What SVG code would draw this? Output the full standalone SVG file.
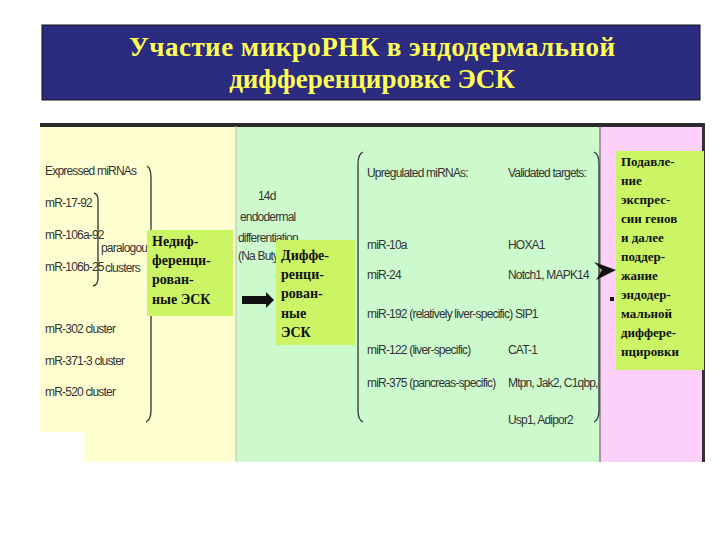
<svg xmlns="http://www.w3.org/2000/svg" width="720" height="540" viewBox="0 0 720 540">
<style>
.t{font-family:"Liberation Serif",serif;font-weight:bold;fill:#ffff55;font-size:27px;text-anchor:middle}
.s{font-family:"Liberation Sans",sans-serif;font-size:12px;fill:#333;letter-spacing:-0.8px}
.b{font-family:"Liberation Serif",serif;font-weight:bold;font-size:14px;fill:#111}
.r{font-family:"Liberation Serif",serif;font-weight:bold;font-size:13px;fill:#111}
.box{fill:#ccf566}
.br{fill:none;stroke:#333;stroke-width:1.3}
</style>
<rect width="720" height="540" fill="#fff"/>
<g id="title">
<rect x="42" y="25" width="658" height="75" fill="#2b2b80" stroke="#111"/>
<text class="t" x="372" y="56" textLength="486">Участие микроРНК в эндодермальной</text>
<text class="t" x="372" y="88">дифференцировке ЭСК</text>
</g>
<g id="panel">
<rect x="40" y="126" width="196" height="336" fill="#fefed0"/>
<rect x="40" y="432" width="44" height="30" fill="#fff"/>
<rect x="236" y="126" width="364" height="336" fill="#cdfacd"/>
<rect x="600" y="126" width="104" height="336" fill="#fcd0f8"/>
<rect x="40" y="123" width="665" height="4" fill="#2a2a2a"/>
<rect x="702" y="123" width="3" height="339" fill="#3a2a3a"/>
<line x1="236" y1="126" x2="236" y2="462" stroke="#bbb"/>
<line x1="600" y1="126" x2="600" y2="462" stroke="#555"/>
<text class="s" x="45" y="175">Expressed miRNAs</text>
<text class="s" x="45" y="207">mR-17-92</text>
<text class="s" x="45" y="239">mR-106a-92</text>
<text class="s" x="45" y="271">mR-106b-25</text>
<text class="s" x="101" y="252">paralogous</text>
<text class="s" x="105" y="272">clusters</text>
<text class="s" x="45" y="333">mR-302 cluster</text>
<text class="s" x="45" y="365">mR-371-3 cluster</text>
<text class="s" x="45" y="396">mR-520 cluster</text>
<path class="br" d="M94 193 Q98 194 98 200 L98 278 Q98 285 93 286"/>
<path class="br" d="M147 166 Q151 168 151 178 L151 410 Q151 420 146 422"/>
<text class="s" x="258" y="200">14d</text>
<text class="s" x="240" y="221">endodermal</text>
<text class="s" x="238" y="242">differentiation</text>
<text class="s" x="238" y="260">(Na Butyr</text>
<path class="br" d="M363 152 Q358 154 358 164 L358 410 Q358 420 363 422"/>
<path class="br" d="M594 152 Q599 154 599 164 L599 410 Q599 420 594 422"/>
<text class="s" x="367" y="177">Upregulated miRNAs:</text>
<text class="s" x="508" y="177">Validated targets:</text>
<text class="s" x="367" y="249">miR-10a</text><text class="s" x="508" y="249">HOXA1</text>
<text class="s" x="367" y="279">miR-24</text><text class="s" x="508" y="279">Notch1, MAPK14</text>
<text class="s" x="367" y="318">miR-192 (relatively liver-specific) SIP1</text>
<text class="s" x="367" y="354">miR-122 (liver-specific)</text><text class="s" x="508" y="354">CAT-1</text>
<text class="s" x="367" y="387">miR-375 (pancreas-specific)</text><text class="s" x="508" y="387">Mtpn, Jak2, C1qbp,</text>
<text class="s" x="508" y="424">Usp1, Adipor2</text>
<rect x="610" y="297" width="4" height="4" fill="#111"/>
</g>
<g id="n1">
<rect class="box" x="147" y="230" width="86" height="86"/>
<text class="b" x="152" y="246">Недиф-</text>
<text class="b" x="152" y="265">ференци-</text>
<text class="b" x="152" y="284">рован-</text>
<text class="b" x="152" y="304">ные ЭСК</text>
</g>
<g id="n2">
<rect class="box" x="276" y="240" width="79" height="105"/>
<text class="b" x="281" y="260">Диффе-</text>
<text class="b" x="281" y="279">ренци-</text>
<text class="b" x="281" y="298">рован-</text>
<text class="b" x="281" y="318">ные</text>
<text class="b" x="281" y="337">ЭСК</text>
</g>
<g id="n3">
<rect class="box" x="616" y="151" width="88" height="219"/>
<text class="r" x="621" y="166">Подавле-</text>
<text class="r" x="621" y="185">ние</text>
<text class="r" x="621" y="204">экспрес-</text>
<text class="r" x="621" y="223">сии генов</text>
<text class="r" x="621" y="242">и далее</text>
<text class="r" x="621" y="261">поддер-</text>
<text class="r" x="621" y="280">жание</text>
<text class="r" x="621" y="299">эндодер-</text>
<text class="r" x="621" y="318">мальной</text>
<text class="r" x="621" y="337">диффере-</text>
<text class="r" x="621" y="356">нцировки</text>
</g>
<g id="connectors">
<path d="M242 296 L266 296 L266 292 L274 300 L266 308 L266 304 L242 304 Z" fill="#111"/>
<path d="M594 262 L616 270 L596 280 L602 270 Z" fill="#111"/>
</g>
</svg>
